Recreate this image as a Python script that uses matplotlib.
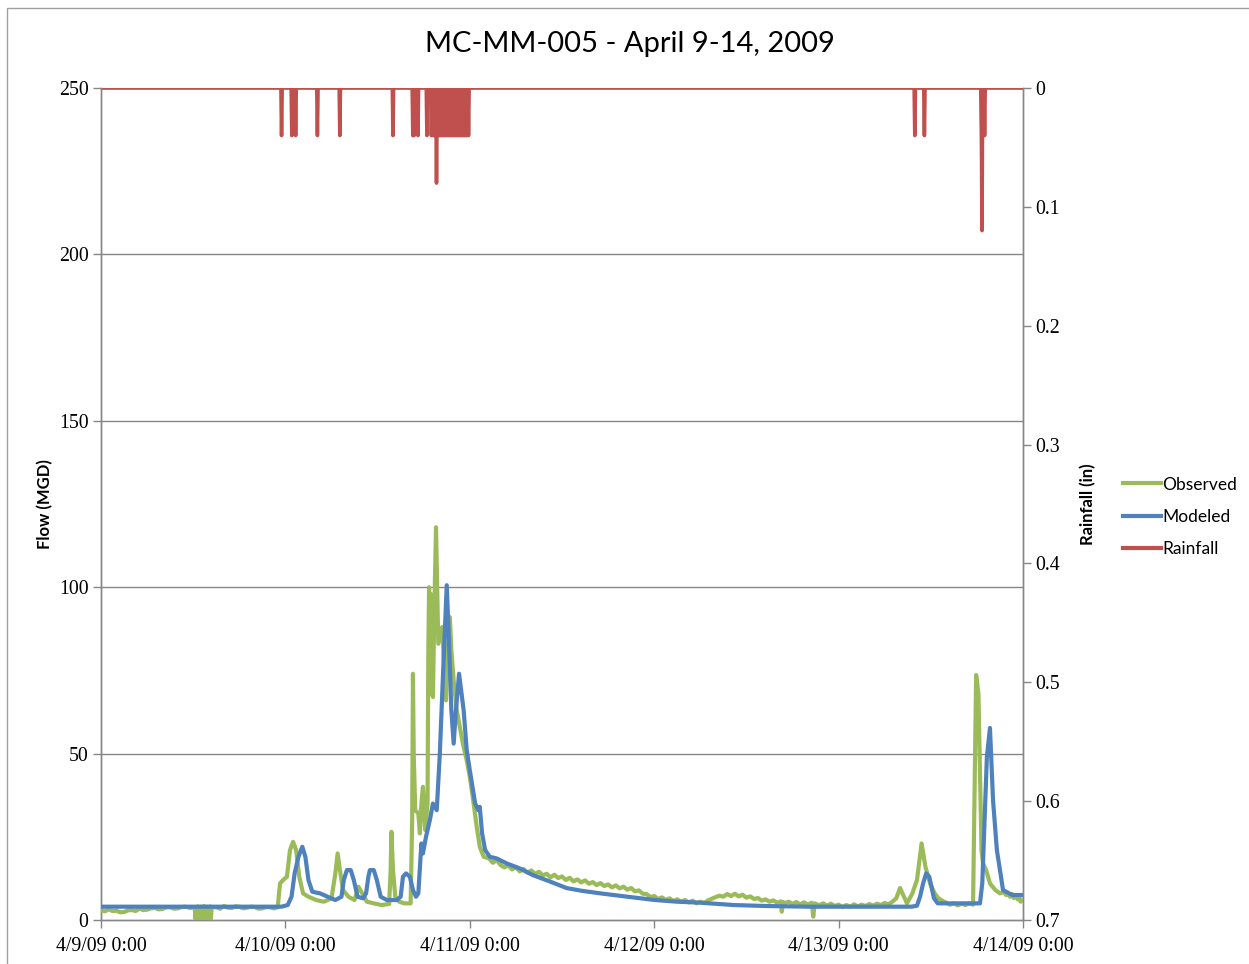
import numpy as np
import matplotlib
matplotlib.use("Agg")
import matplotlib.pyplot as plt
from matplotlib.patches import Rectangle
from matplotlib.lines import Line2D
import datetime as dt

# ---------------- data (hours after 4/9/09 0:00) ----------------
obs_hours = [0, 0.5, 1, 1.5, 2, 2.5, 3, 3.5, 4, 4.5, 5, 5.5, 6, 6.5, 7, 7.5, 8, 8.5, 9, 9.5,
             10, 10.5, 11, 11.6, 12.2,
             12.3, 12.4, 12.5, 12.6, 12.7, 12.8, 12.9, 13.0, 13.1, 13.2, 13.3, 13.4,
             13.5, 13.6, 13.7, 13.8, 13.9, 14.0, 14.1, 14.2, 14.3, 14.4,
             15, 15.5, 16, 16.5, 17, 17.5, 18, 18.5, 19, 19.5, 20, 20.5, 21, 21.5, 22, 22.5, 23.0,
             23.3, 23.7, 24.2, 24.6, 25.0, 25.4, 25.8, 26.3, 27, 28, 29, 30, 30.5, 30.8,
             31.1, 31.5, 32.2, 33, 33.5, 34, 34.6, 35.5, 36.5, 37.5, 37.7, 37.8, 38.0,
             38.3, 38.8, 39.5, 40.3, 40.5, 40.6, 40.7, 40.9, 41.3, 41.5, 41.7, 41.9,
             42.2, 42.5, 42.6, 42.7, 42.8, 42.9, 43.0, 43.1, 43.2, 43.4, 43.6, 43.9,
             44.2, 44.4, 44.7, 44.9, 45.1, 45.4, 45.6, 45.9, 46.3, 46.7, 47.1, 47.6,
             48.0, 48.5, 48.9, 49.3, 49.8,
             50.5, 51, 51.5, 52, 52.5, 53, 53.5, 54, 54.5, 55, 55.5, 56, 56.5, 57, 57.5,
             58, 58.5, 59, 59.5, 60, 60.5, 61, 61.5, 62, 62.5, 63, 63.5, 64, 64.5, 65,
             65.5, 66, 66.5, 67, 67.5, 68, 68.5, 69, 69.5, 70, 70.5, 71, 71.5, 72, 72.5,
             73, 73.5, 74, 74.5, 75, 75.5, 76, 76.5, 77, 77.5, 78, 78.5, 79, 79.5, 80,
             80.5, 81, 81.5, 82, 82.5, 83, 83.5, 84, 84.5, 85, 85.5, 86, 86.5, 87, 87.5,
             88, 88.5, 88.6, 88.8, 89, 89.5, 90, 90.5, 91, 91.5, 92, 92.5, 92.7, 92.9,
             93.5, 94, 94.5, 95, 95.5, 96, 96.5, 97, 97.5, 98, 98.5, 99, 99.5, 100,
             100.5, 101, 101.5, 102, 102.5, 103, 103.5, 104.0, 104.9, 105.6, 106.2,
             106.8, 107.3, 107.9, 108.5, 109, 109.5, 110, 110.5, 111, 111.5, 112, 112.5,
             113, 113.5, 113.7, 113.9, 114.2, 114.4, 114.6, 114.8, 115.2, 115.7, 116.4,
             117, 117.5, 117.8, 118.1, 118.3, 118.6, 118.8, 119.1, 119.3, 119.5, 119.7, 120]
obs_flow = [3.0, 2.6, 3.2, 2.7, 2.8, 2.3, 2.4, 2.9, 3.0, 2.7, 3.4, 3.0, 3.1, 3.5, 3.6, 3.2,
            3.3, 3.8, 3.8, 3.4, 3.5, 3.9, 4.0, 3.6, 3.8,
            0.3, 3.9, 0.2, 4.1, 0.4, 3.8, 0.2, 4.0, 0.3, 3.7, 0.2, 4.2, 0.3,
            3.9, 0.2, 4.0, 0.4, 3.8, 0.2, 4.1, 0.3, 3.9,
            3.8, 3.4, 4.2, 3.7, 3.6, 4.1, 4.0, 3.5, 3.7, 4.0, 3.9, 3.4, 3.5, 3.9, 3.8, 3.5, 3.8,
            11, 12, 13, 21, 23.5, 21, 13, 8, 7, 6, 5.5, 6.5, 14, 20,
            15, 9, 7, 6, 10, 8, 5.5, 5, 4.5, 4.8, 15, 26.5, 15,
            7, 5.5, 5, 5, 30, 74, 50, 33, 32, 26, 35, 40,
            27, 35, 80, 100, 70, 98, 68, 95, 67, 95, 118, 83,
            86, 88, 75, 66, 80, 91, 81, 72, 63, 58, 53, 48,
            43, 35, 28, 22, 19,
            18.5, 17.2, 18.0, 16.5, 15.8, 16.4, 15.2, 15.9, 14.6, 15.3, 14.2, 14.9, 13.8, 14.5, 13.4,
            13.9, 12.8, 13.6, 12.6, 13.1, 12.0, 12.7, 11.6, 12.2, 11.3, 11.9, 10.9, 11.4, 10.5, 11.1,
            10.2, 10.7, 9.8, 10.4, 9.5, 10.0, 9.1, 9.6, 8.6, 8.9, 7.9, 7.8, 6.9, 7.2, 6.3,
            6.8, 6.0, 6.5, 5.7, 6.2, 5.5, 6.0, 5.3, 5.8, 5.0, 5.5, 5.1, 5.9, 6.4, 6.9,
            7.3, 7.0, 7.8, 7.2, 7.9, 7.1, 7.6, 6.7, 7.1, 6.3, 6.6, 5.8, 6.2, 5.5, 5.9,
            5.2, 5.6, 2.5, 5.4, 5.0, 5.5, 4.8, 5.4, 4.7, 5.3, 4.6, 5.2, 1.0, 5.0,
            4.4, 5.0, 4.3, 4.9, 4.2, 4.6, 3.9, 4.5, 4.0, 4.7, 4.1, 4.6, 4.2, 4.8,
            4.3, 4.9, 4.5, 5.1, 4.7, 5.5, 6.5, 9.6, 5.0, 8.0, 12,
            23, 16, 11, 8, 6.5, 5.8, 5.2, 4.6, 5.0, 4.4, 4.9, 4.5,
            5.0, 4.6, 40, 73.6, 68, 45, 21, 17, 15, 11, 9,
            8, 8.4, 7.5, 8.0, 7.0, 7.8, 6.6, 7.5, 6.2, 6.9, 5.5, 6.0]

mod_hours = [0, 23.5, 24.3, 24.8, 25.2, 25.7, 26.2, 26.6, 27.0, 27.5, 28.5, 29.5, 30.5,
             31.3, 31.6, 32.0, 32.5, 32.9, 33.4, 34.1, 34.5, 34.8, 35.0, 35.5, 35.9, 36.4,
             37.2, 38.5, 39.0, 39.3, 39.7, 40.2, 40.6, 41.0, 41.3, 41.7, 41.9, 42.3, 42.8,
             43.2, 43.7, 44.1, 44.5, 45.0, 45.3, 45.6, 45.9, 46.2, 46.6, 47.2, 47.6, 48.0,
             48.7, 49.1, 49.3, 49.6, 50.0, 50.6, 51.5, 52.8, 54.5, 56.2, 58.5, 60.6, 62.5,
             65, 68.5, 72.1, 75, 78, 82.3, 86.6, 92, 100, 105.5, 106.2, 106.6, 107.0, 107.4,
             107.8, 108.4, 108.9, 112, 114.4, 114.7, 115.0, 115.3, 115.7, 116.1, 116.6,
             117.4, 118.6, 120]
mod_flow = [4, 4, 4.5, 7, 14, 19, 22, 19, 12, 8.5, 8, 7, 6,
            7, 12, 15, 15, 12, 7, 6.5, 8, 13, 15, 15, 12, 7,
            6, 6, 7, 13, 14, 13, 9, 7, 8, 23, 20, 25, 30,
            35, 33, 50, 73, 100.6, 83, 63, 53, 63, 74, 63, 51, 45,
            35, 33, 34, 26, 21, 19, 18.5, 17, 15.5, 13.5, 11.5, 9.6, 8.8,
            8, 7, 6, 5.5, 5.2, 4.5, 4.2, 4, 4, 4, 4.3, 7, 11, 14,
            13, 6.6, 5, 5, 5, 11, 30, 49, 57.7, 36, 21,
            9, 7.5, 7.5]

rain_hours = [23.5, 24.8, 25.3, 28.2, 31.1, 38.0, 40.58, 40.75, 41.25, 42.4,
              43.0, 43.17, 43.33, 43.5, 43.67, 43.83, 44.0, 44.17, 44.33, 44.5,
              44.67, 44.83, 45.0, 45.17, 45.33, 45.5, 45.67, 45.83, 46.0, 46.17,
              46.33, 46.5, 46.67, 46.83, 47.0, 47.17, 47.33, 47.5, 47.67, 47.83,
              105.9, 107.2, 114.58, 114.67, 114.83, 115.0]
rain_in = [0.04, 0.04, 0.04, 0.04, 0.04, 0.04, 0.04, 0.04, 0.04, 0.04,
           0.04, 0.04, 0.04, 0.04, 0.08, 0.04, 0.04, 0.04, 0.04, 0.04,
           0.04, 0.04, 0.04, 0.04, 0.04, 0.04, 0.04, 0.04, 0.04, 0.04,
           0.04, 0.04, 0.04, 0.04, 0.04, 0.04, 0.04, 0.04, 0.04, 0.04,
           0.04, 0.04, 0.04, 0.12, 0.04, 0.04]

left_ticks = [0, 50, 100, 150, 200, 250]
right_ticks = [0, 0.1, 0.2, 0.3, 0.4, 0.5, 0.6, 0.7]
right_labels = ["0", "0.1", "0.2", "0.3", "0.4", "0.5", "0.6", "0.7"]
day_labels = ["4/9/09 0:00", "4/10/09 0:00", "4/11/09 0:00", "4/12/09 0:00",
              "4/13/09 0:00", "4/14/09 0:00"]
title = "MC-MM-005 - April 9-14, 2009"

# ---------------- build ----------------
t0 = dt.datetime(2009, 4, 9)
def to_dt(hs):
    return [t0 + dt.timedelta(hours=h) for h in hs]

# 5-minute rainfall record
step = 5.0 / 60.0
n = int(round(120 / step)) + 1
rain_series = np.zeros(n)
for h, v in zip(rain_hours, rain_in):
    rain_series[int(round(h / step))] = v
rain_times = [t0 + dt.timedelta(minutes=5 * i) for i in range(n)]

GREEN = "#9BBB59"
BLUE = "#4F81BD"
RED = "#C0504D"
GRAY = "#868686"

W, H = 1249, 964
fig = plt.figure(figsize=(W / 100, H / 100), dpi=100)
fig.patches.append(Rectangle((7 / W, -0.1), 1.2, 1 - 8 / H + 0.1, transform=fig.transFigure,
                             fill=False, edgecolor="#A0A0A0", linewidth=1.0))

ax = fig.add_axes([101 / W, 1 - 920 / H, (1023 - 101) / W, (920 - 88) / H])
ax2 = ax.twinx()

ax.set_zorder(2)
ax.patch.set_visible(False)
ax2.set_zorder(1)

serif = "Liberation Serif"
tick_fs = 14.3
LW = 3.0

ax.plot(to_dt(obs_hours), obs_flow, color=GREEN, lw=LW, solid_joinstyle="round", zorder=3)
ax.plot(to_dt(mod_hours), mod_flow, color=BLUE, lw=LW, solid_joinstyle="round", zorder=4)
ax2.plot(rain_times, rain_series, color=RED, lw=2.6, zorder=3)

ax.set_ylim(0, 250)
ax.set_yticks(left_ticks)
ax.set_yticklabels([str(v) for v in left_ticks], fontfamily=serif, fontsize=tick_fs)
ax2.set_ylim(0.7, 0)
ax2.set_yticks(right_ticks)
ax2.set_yticklabels(right_labels, fontfamily=serif, fontsize=tick_fs)

days = [t0 + dt.timedelta(days=d) for d in range(6)]
ax.set_xlim(days[0], days[-1])
ax.set_xticks(days)
ax.set_xticklabels(day_labels, fontfamily=serif, fontsize=tick_fs)

for v in left_ticks[1:]:
    ax2.axhline(0.7 - v / 250 * 0.7, color=GRAY, lw=1.0, zorder=0)

for a in (ax, ax2):
    for s in a.spines.values():
        s.set_color(GRAY)
        s.set_linewidth(1.0)
    a.spines["top"].set_visible(False)
ax.tick_params(axis="both", color=GRAY, length=6, width=1.0, pad=3)
ax2.tick_params(axis="y", color=GRAY, length=6, width=1.0, pad=3)
ax.tick_params(axis="x", pad=6)

ax.set_ylabel("Flow (MGD)", fontfamily="Lato", fontweight="bold", fontsize=12, labelpad=4)
ax2.set_ylabel("Rainfall (in)", fontfamily="Lato", fontweight="bold", fontsize=12, labelpad=14)

fig.text(630 / W, 1 - 44 / H, title, ha="center", va="center", fontfamily="Lato", fontsize=21)

handles = [Line2D([], [], color=GREEN, lw=LW), Line2D([], [], color=BLUE, lw=LW),
           Line2D([], [], color=RED, lw=LW)]
leg = fig.legend(handles, ["Observed", "Modeled", "Rainfall"], loc="center left",
                 bbox_to_anchor=(1116 / W, 1 - 517 / H), frameon=False,
                 prop={"family": "Lato", "size": 12.5}, handlelength=2.2, handletextpad=0.05,
                 labelspacing=0.95, borderaxespad=0)

fig.savefig("out.png", dpi=100)
